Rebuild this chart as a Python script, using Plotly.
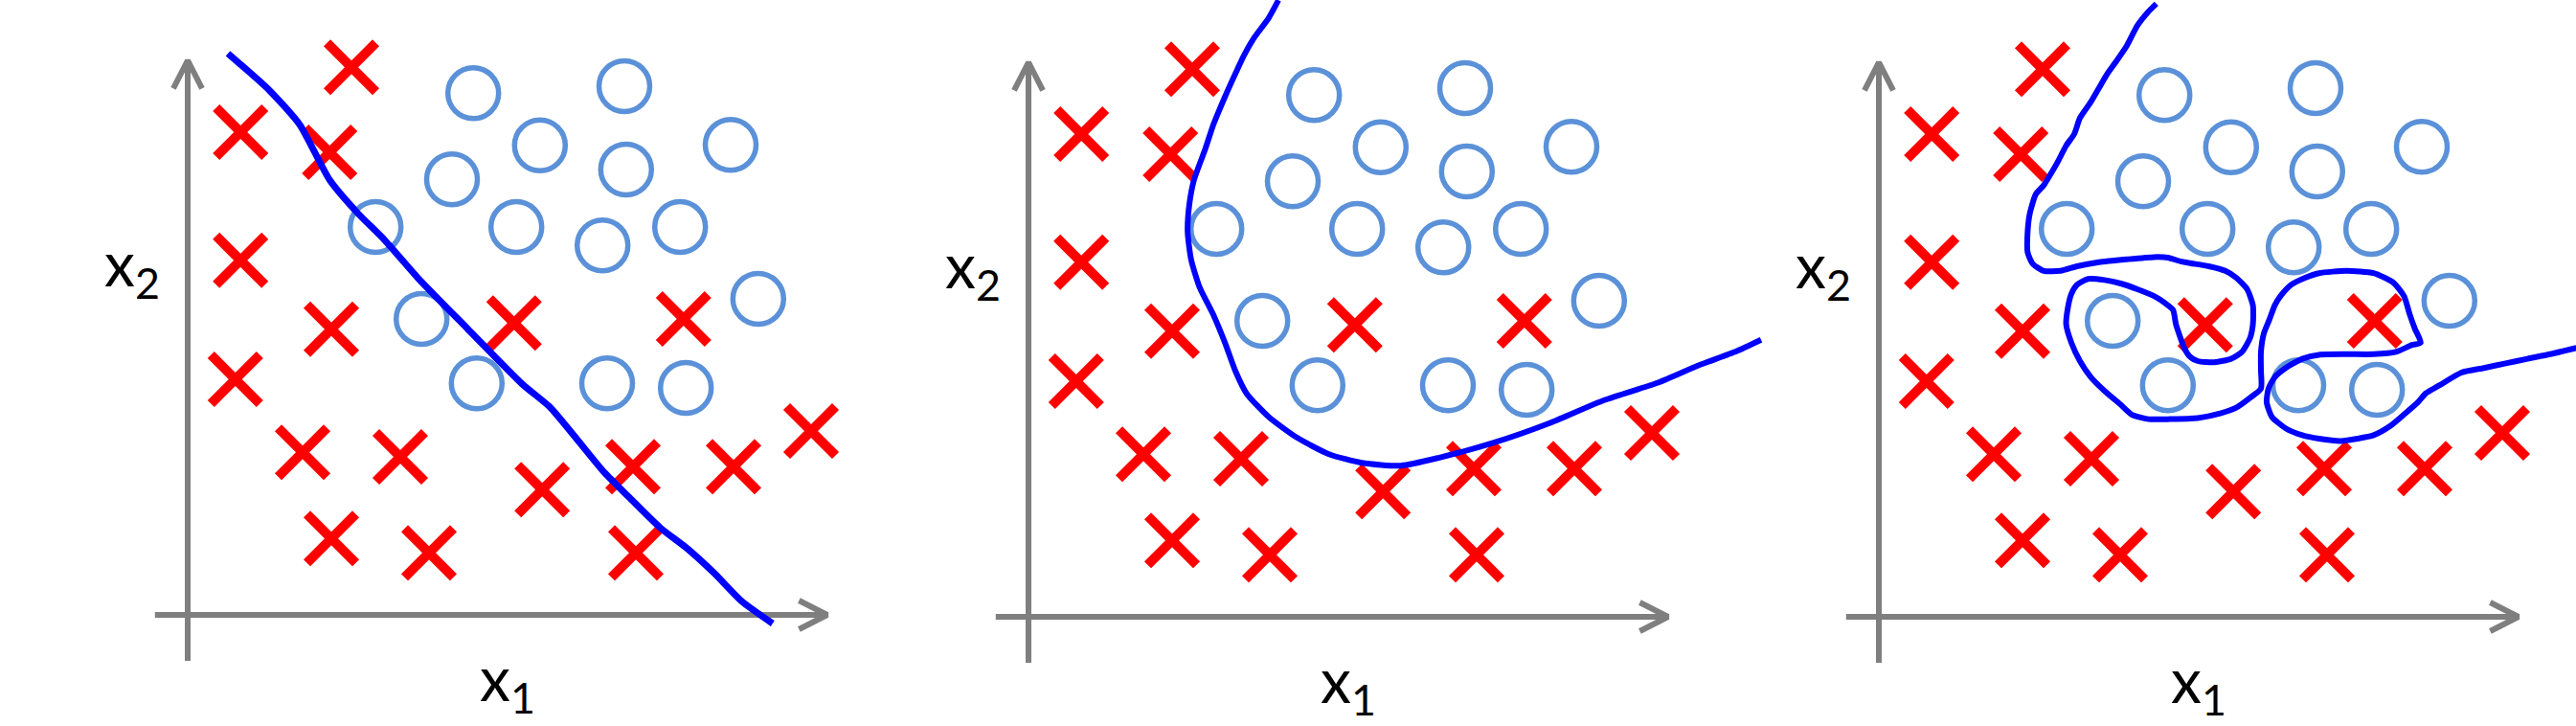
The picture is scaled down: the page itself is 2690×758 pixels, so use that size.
import plotly.graph_objects as go

# ---------------- data (feature space units: x1, x2) ----------------
circle_x1 = [4.97, 7.60, 6.13, 7.63, 9.45, 4.60, 3.27, 5.72, 7.22, 8.57, 9.93, 4.07, 5.03, 7.30, 8.67]
circle_x2 = [9.08, 9.20, 8.17, 7.75, 8.18, 7.58, 6.75, 6.75, 6.43, 6.75, 5.50, 5.15, 4.03, 4.03, 3.95]

cross_x1 = [2.85, 0.92, 2.47, 0.92, 2.50, 5.68, 8.63, 0.83, 2.00, 3.70, 6.17, 7.75, 9.50, 10.85, 2.50, 4.20, 7.80]
cross_x2 = [9.53, 8.40, 8.05, 6.17, 4.97, 5.08, 5.15, 4.10, 2.83, 2.75, 2.18, 2.58, 2.58, 3.20, 1.33, 1.08, 1.08]

# decision boundary 1 : underfit (almost linear)
linear_x1 = [0.70, 1.42, 1.95, 2.47, 2.95, 3.43, 4.00, 4.87, 5.82, 6.30, 6.78, 7.25, 7.73, 8.22, 8.70, 9.17, 9.65, 10.18]
linear_x2 = [9.77, 9.13, 8.53, 7.57, 7.00, 6.52, 5.87, 4.98, 4.02, 3.62, 3.05, 2.48, 2.00, 1.52, 1.15, 0.72, 0.23, -0.15]

# decision boundary 2 : good fit (quadratic-like)
quad_x1 = [4.35, 4.18, 3.93, 3.75, 3.60, 3.42, 3.22, 3.08, 2.88, 2.80, 2.77, 2.83, 2.98, 3.22, 3.42, 3.60,
           3.80, 4.18, 4.67, 5.23, 5.80, 6.48, 7.15, 8.10, 9.07, 10.02, 10.97, 11.65, 12.32, 12.75]
quad_x2 = [10.73, 10.42, 10.08, 9.77, 9.45, 9.05, 8.57, 8.15, 7.60, 7.18, 6.70, 6.22, 5.73, 5.25, 4.77, 4.28,
           3.88, 3.48, 3.12, 2.83, 2.68, 2.63, 2.77, 3.03, 3.37, 3.77, 4.08, 4.37, 4.62, 4.82]

# decision boundary 3 : overfit (wiggly)
over_x1 = [4.83, 4.69, 4.50, 4.31, 4.12, 3.97, 3.83, 3.69, 3.50, 3.40, 3.26, 3.11, 2.97, 2.87, 2.73, 2.63,
           2.59, 2.59, 2.68, 2.87, 3.16, 3.45, 3.83, 4.31, 4.79, 5.03, 5.27, 5.74, 6.03, 6.22, 6.41, 6.51,
           6.51, 6.46, 6.32, 6.13, 5.84, 5.55, 5.41, 5.31, 5.25, 5.17, 5.12, 4.98, 4.79, 4.50, 4.21, 3.93,
           3.64, 3.45, 3.35, 3.29, 3.26, 3.35, 3.50, 3.69, 3.93, 4.21, 4.40, 4.69, 5.07, 5.55, 5.94, 6.22,
           6.46, 6.65, 6.65, 6.65, 6.70, 6.80, 6.89, 6.99, 7.18, 7.42, 7.66, 8.14, 8.61, 8.95, 9.14, 9.24,
           9.33, 9.43, 9.28, 9.00, 8.61, 8.14, 7.66, 7.37, 7.08, 6.89, 6.78, 6.75, 6.84, 7.08, 7.37, 7.66,
           8.04, 8.33, 8.61, 8.90, 9.14, 9.38, 9.52, 9.76, 10.14, 10.53, 10.91, 11.29, 11.68, 12.14]
over_x2 = [10.67, 10.53, 10.29, 9.93, 9.65, 9.44, 9.20, 8.96, 8.68, 8.40, 8.20, 7.91, 7.67, 7.51, 7.35, 7.03,
           6.71, 6.34, 6.14, 6.02, 6.02, 6.10, 6.17, 6.22, 6.26, 6.25, 6.18, 6.10, 6.02, 5.90, 5.70, 5.42,
           5.09, 4.85, 4.61, 4.49, 4.43, 4.45, 4.53, 4.69, 4.85, 5.09, 5.34, 5.46, 5.58, 5.70, 5.80, 5.86,
           5.88, 5.78, 5.62, 5.38, 5.09, 4.77, 4.45, 4.17, 3.93, 3.69, 3.52, 3.44, 3.44, 3.46, 3.54, 3.64,
           3.81, 3.97, 4.29, 4.61, 4.93, 5.18, 5.42, 5.58, 5.78, 5.90, 5.98, 6.02, 5.98, 5.82, 5.58, 5.26,
           5.01, 4.77, 4.73, 4.61, 4.57, 4.57, 4.56, 4.49, 4.33, 4.17, 3.97, 3.73, 3.48, 3.28, 3.16, 3.10,
           3.06, 3.10, 3.16, 3.32, 3.52, 3.73, 3.89, 4.03, 4.25, 4.33, 4.41, 4.49, 4.57, 4.68]

axis_labels = ["x<sub>1</sub>", "x<sub>2</sub>"]

# ---------------- layout constants ----------------
W, H = 2690, 758
PX = 60.0  # pixels per feature unit
ORIGINS = [(196, 642), (1074, 644), (1962, 644)]   # pixel position of each panel origin
LEFT_EXT = [196, 180, 180]                          # pixels left of origin covered by each subplot
RIGHT_EXT = [700, 780, 728]                         # pixels right of origin covered by each subplot

AX_LEFT, AX_BOTTOM = -0.57, -0.80
AX_X_TIP, AX_Y_TIP = 11.13, 9.65
HEAD_W, HEAD_L = 0.25, 0.49
AXIS_COLOR = "#7f7f7f"
AXIS_W = 6

CIRCLE_COLOR = "#5b91d8"
CROSS_COLOR = "#ff0000"
LINE_COLOR = "#0000ff"
FONT = "Lato"

boundaries = [(linear_x1, linear_x2, 7), (quad_x1, quad_x2, 6), (over_x1, over_x2, 6)]

fig = go.Figure()
layout = dict(
    width=W, height=H, autosize=False,
    margin=dict(l=0, r=0, t=0, b=0),
    paper_bgcolor="white", plot_bgcolor="rgba(0,0,0,0)",
    showlegend=False,
)

annotations = []
for i, ((ox, oy), le, re_, (bx, by, bw)) in enumerate(zip(ORIGINS, LEFT_EXT, RIGHT_EXT, boundaries)):
    n = "" if i == 0 else str(i + 1)
    xa, ya = "x" + n, "y" + n
    layout["xaxis" + n] = dict(domain=[(ox - le) / W, (ox + re_) / W], range=[-le / PX, re_ / PX],
                               visible=False, fixedrange=True, anchor=ya)
    layout["yaxis" + n] = dict(domain=[0, 1], range=[-(H - oy) / PX, oy / PX],
                               visible=False, fixedrange=True, anchor=xa)

    axis_style = dict(mode="lines", line=dict(color=AXIS_COLOR, width=AXIS_W),
                      hoverinfo="skip", xaxis=xa, yaxis=ya)
    # axes lines
    fig.add_trace(go.Scatter(x=[AX_LEFT, AX_X_TIP], y=[0, 0], **axis_style))
    fig.add_trace(go.Scatter(x=[0, 0], y=[AX_BOTTOM, AX_Y_TIP], **axis_style))
    # arrow heads
    fig.add_trace(go.Scatter(x=[AX_X_TIP - HEAD_L, AX_X_TIP, AX_X_TIP - HEAD_L],
                             y=[HEAD_W, 0, -HEAD_W], **axis_style))
    fig.add_trace(go.Scatter(x=[-HEAD_W, 0, HEAD_W],
                             y=[AX_Y_TIP - HEAD_L, AX_Y_TIP, AX_Y_TIP - HEAD_L], **axis_style))

    # data
    fig.add_trace(go.Scatter(x=circle_x1, y=circle_x2, mode="markers", xaxis=xa, yaxis=ya,
                             marker=dict(symbol="circle-open", size=53, color=CIRCLE_COLOR,
                                         line=dict(width=5.5, color=CIRCLE_COLOR)),
                             cliponaxis=False, name="y = 1"))
    fig.add_trace(go.Scatter(x=cross_x1, y=cross_x2, mode="markers", xaxis=xa, yaxis=ya,
                             marker=dict(symbol="x-thin", size=51, color=CROSS_COLOR,
                                         line=dict(width=10, color=CROSS_COLOR)),
                             cliponaxis=False, name="y = 0"))
    # decision boundary
    fig.add_trace(go.Scatter(x=bx, y=by, mode="lines", xaxis=xa, yaxis=ya,
                             line=dict(color=LINE_COLOR, width=bw, shape="spline", smoothing=0.6),
                             hoverinfo="skip", name="boundary"))

    # axis labels
    annotations.append(dict(text=axis_labels[1], x=-0.97, y=6.05, xref=xa, yref=ya,
                            showarrow=False, xanchor="center", yanchor="middle",
                            font=dict(family=FONT, size=64, color="black")))
    annotations.append(dict(text=axis_labels[0], x=5.57, y=-1.17, xref=xa, yref=ya,
                            showarrow=False, xanchor="center", yanchor="middle",
                            font=dict(family=FONT, size=64, color="black")))

layout["annotations"] = annotations
fig.update_layout(**layout)
fig.write_html("out.html", config={"displayModeBar": False},
               post_script="document.body.style.margin='0px';")
